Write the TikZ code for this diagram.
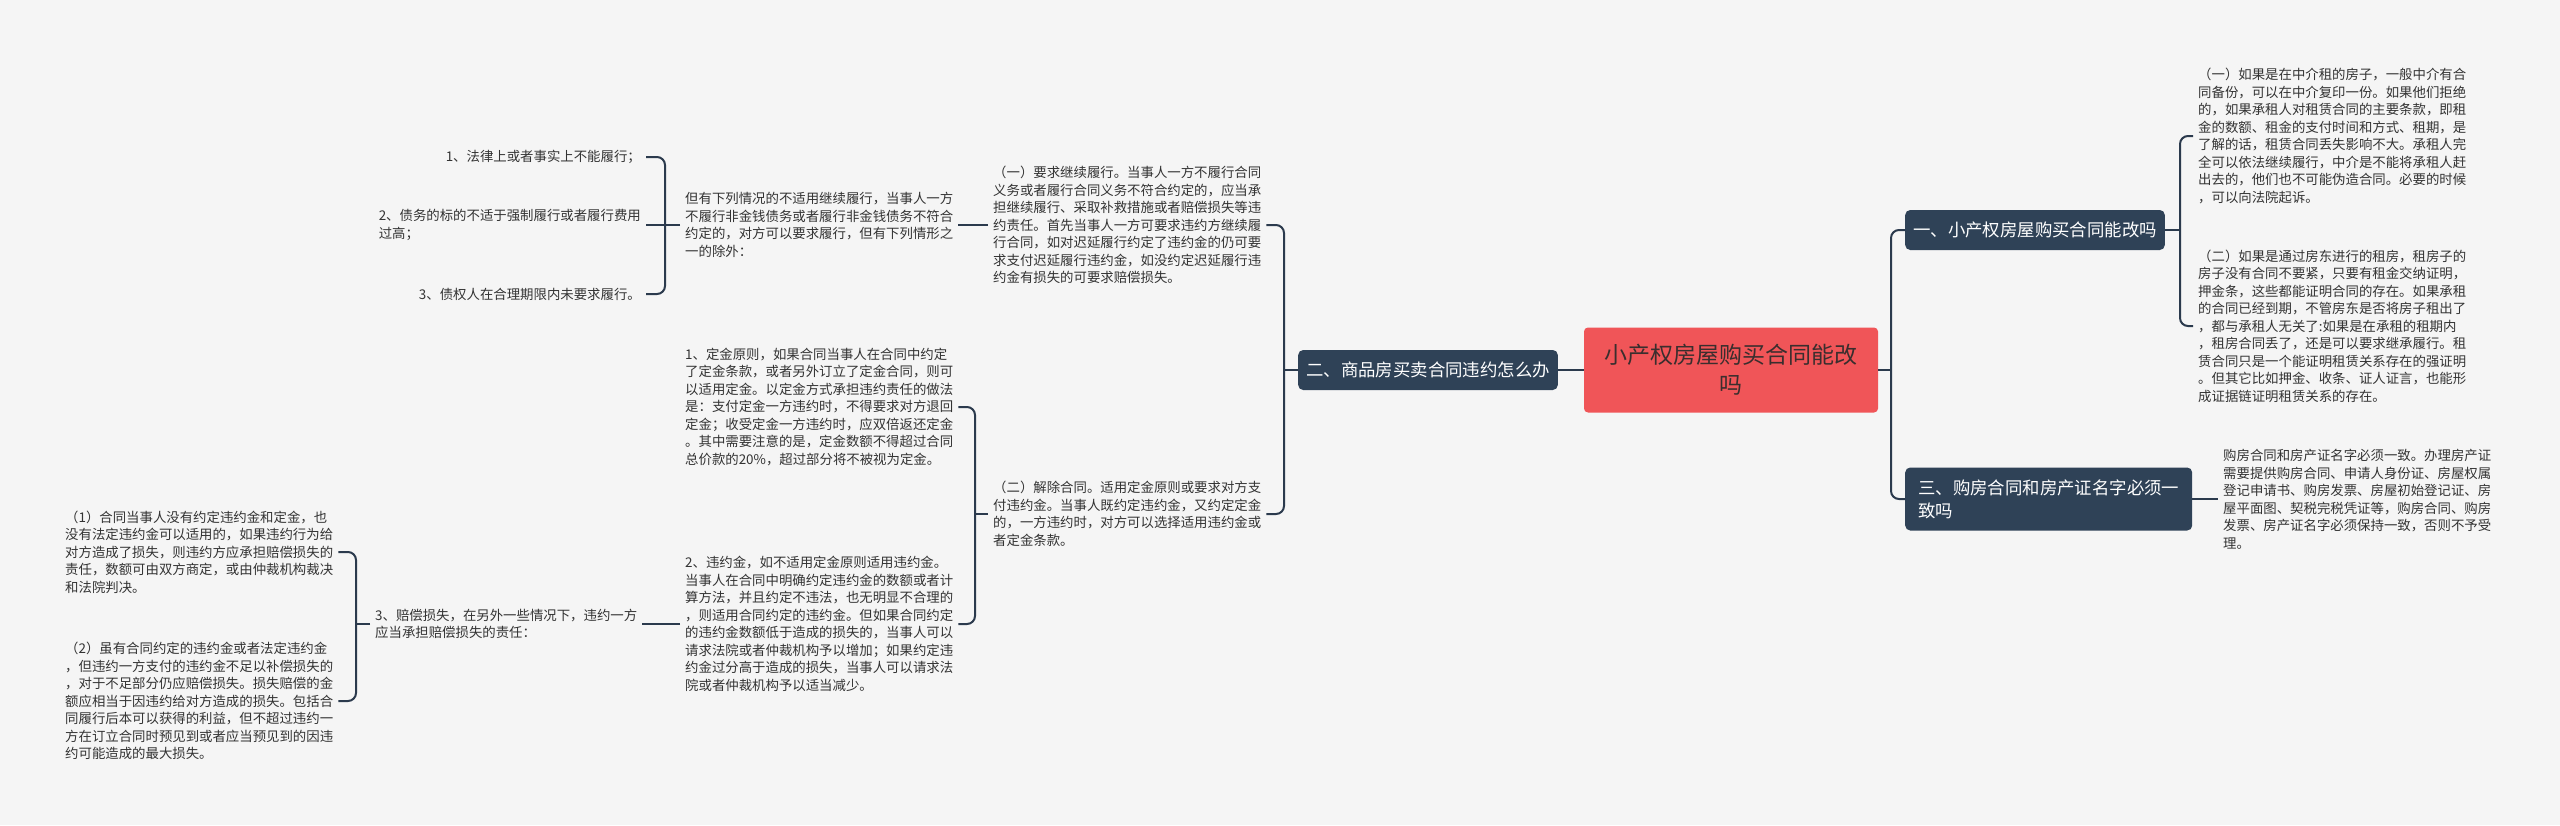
\documentclass[tikz,border=0pt]{standalone}
\usepackage{fontspec}
\setmainfont{Noto Sans CJK SC}
\definecolor{bgc}{HTML}{F5F5F5}
\definecolor{navy}{HTML}{2F4257}
\definecolor{linec}{HTML}{2B3A4D}
\definecolor{rootred}{HTML}{F05558}
\definecolor{roottext}{HTML}{3A2E2E}
\definecolor{leaftext}{HTML}{333333}
\begin{document}
\begin{tikzpicture}[x=1pt,y=-1pt,
  leaf/.style={align=left, inner xsep=5pt, inner ysep=3pt, text=leaftext, font=\fontsize{13.4}{17.5}\selectfont},
  branchbox/.style={fill=navy, text=white, rounded corners=5pt, inner xsep=8pt, font=\fontsize{17.4}{23}\selectfont, minimum height=40pt, align=left},
  rootbox/.style={fill=rootred, text=roottext, rounded corners=4pt, minimum width=294pt, minimum height=85pt, font=\fontsize{23}{30}\selectfont, align=center},
  conn/.style={draw=linec, line width=2pt, rounded corners=8pt}]
\fill[bgc] (0,0) rectangle (2560,825);
\useasboundingbox (0,0) rectangle (2560,825);

% root and branches
\node[rootbox] (root) at (1731,370) {小产权房屋购买合同能改\\吗};
\node[branchbox, anchor=west] (b1) at (1905,230) {一、小产权房屋购买合同能改吗};
\node[branchbox, anchor=west, minimum width=287pt, minimum height=63pt] (b3) at (1905,499) {三、购房合同和房产证名字必须一\\致吗};
\node[branchbox, anchor=east] (b2) at (1558,370) {二、商品房买卖合同违约怎么办};

% spine points
\coordinate (sr) at (1891,370);
\coordinate (s1) at (2180,230);
\coordinate (s2) at (1284,370);
\coordinate (s3) at (665,225);
\coordinate (s4) at (975,514);
\coordinate (s5) at (356,624);

% right leaves
\node[leaf, anchor=west] (r1a) at (2193,136) {（一）如果是在中介租的房子，一般中介有合\\同备份，可以在中介复印一份。如果他们拒绝\\的，如果承租人对租赁合同的主要条款，即租\\金的数额、租金的支付时间和方式、租期，是\\了解的话，租赁合同丢失影响不大。承租人完\\全可以依法继续履行，中介是不能将承租人赶\\出去的，他们也不可能伪造合同。必要的时候\\，可以向法院起诉。};
\node[leaf, anchor=west] (r1b) at (2193,326) {（二）如果是通过房东进行的租房，租房子的\\房子没有合同不要紧，只要有租金交纳证明，\\押金条，这些都能证明合同的存在。如果承租\\的合同已经到期，不管房东是否将房子租出了\\，都与承租人无关了:如果是在承租的租期内\\，租房合同丢了，还是可以要求继承履行。租\\赁合同只是一个能证明租赁关系存在的强证明\\。但其它比如押金、收条、证人证言，也能形\\成证据链证明租赁关系的存在。};
\node[leaf, anchor=west] (r3) at (2218,499) {购房合同和房产证名字必须一致。办理房产证\\需要提供购房合同、申请人身份证、房屋权属\\登记申请书、购房发票、房屋初始登记证、房\\屋平面图、契税完税凭证等，购房合同、购房\\发票、房产证名字必须保持一致，否则不予受\\理。};

% left leaves
\node[leaf, anchor=west] (l1) at (988,225) {（一）要求继续履行。当事人一方不履行合同\\义务或者履行合同义务不符合约定的，应当承\\担继续履行、采取补救措施或者赔偿损失等违\\约责任。首先当事人一方可要求违约方继续履\\行合同，如对迟延履行约定了违约金的仍可要\\求支付迟延履行违约金，如没约定迟延履行违\\约金有损失的可要求赔偿损失。};
\node[leaf, anchor=west] (l2) at (988,514) {（二）解除合同。适用定金原则或要求对方支\\付违约金。当事人既约定违约金，又约定定金\\的，一方违约时，对方可以选择适用违约金或\\者定金条款。};
\node[leaf, anchor=west] (nex) at (680,225) {但有下列情况的不适用继续履行，当事人一方\\不履行非金钱债务或者履行非金钱债务不符合\\约定的，对方可以要求履行，但有下列情形之\\一的除外：};
\node[leaf, anchor=east] (c1) at (646,157) {1、法律上或者事实上不能履行；};
\node[leaf, anchor=east] (c2) at (646,225) {2、债务的标的不适于强制履行或者履行费用\\过高；};
\node[leaf, anchor=east] (c3) at (646,294) {3、债权人在合理期限内未要求履行。};
\node[leaf, anchor=west] (m1) at (680,407) {1、定金原则，如果合同当事人在合同中约定\\了定金条款，或者另外订立了定金合同，则可\\以适用定金。以定金方式承担违约责任的做法\\是：支付定金一方违约时，不得要求对方退回\\定金；收受定金一方违约时，应双倍返还定金\\。其中需要注意的是，定金数额不得超过合同\\总价款的20\%，超过部分将不被视为定金。};
\node[leaf, anchor=west] (m2) at (680,624) {2、违约金，如不适用定金原则适用违约金。\\当事人在合同中明确约定违约金的数额或者计\\算方法，并且约定不违法，也无明显不合理的\\，则适用合同约定的违约金。但如果合同约定\\的违约金数额低于造成的损失的，当事人可以\\请求法院或者仲裁机构予以增加；如果约定违\\约金过分高于造成的损失，当事人可以请求法\\院或者仲裁机构予以适当减少。};
\node[leaf, anchor=west] (m3) at (370,624) {3、赔偿损失，在另外一些情况下，违约一方\\应当承担赔偿损失的责任：};
\node[leaf, anchor=west] (p1) at (60,552) {（1）合同当事人没有约定违约金和定金，也\\没有法定违约金可以适用的，如果违约行为给\\对方造成了损失，则违约方应承担赔偿损失的\\责任，数额可由双方商定，或由仲裁机构裁决\\和法院判决。};
\node[leaf, anchor=west] (p2) at (60,701) {（2）虽有合同约定的违约金或者法定违约金\\，但违约一方支付的违约金不足以补偿损失的\\，对于不足部分仍应赔偿损失。损失赔偿的金\\额应相当于因违约给对方造成的损失。包括合\\同履行后本可以获得的利益，但不超过违约一\\方在订立合同时预见到或者应当预见到的因违\\约可能造成的最大损失。};

% connectors
\draw[conn] (root.east) -- (sr);
\draw[conn] (b1.west) -| (sr) |- (b3.west);
\draw[conn] (root.west) -- (b2.east);
\draw[conn] (b1.east) -- (s1);
\draw[conn] (r1a.west) -| (s1) |- (r1b.west);
\draw[conn] (b3.east) -- (r3.west);
\draw[conn] (b2.west) -- (s2);
\draw[conn] (l1.east) -| (s2) |- (l2.east);
\draw[conn] (l1.west) -- (nex.east);
\draw[conn] (nex.west) -- (s3);
\draw[conn] (c1.east) -| (s3) |- (c3.east);
\draw[conn] (c2.east) -- (s3);
\draw[conn] (l2.west) -- (s4);
\draw[conn] (m1.east) -| (s4) |- (m2.east);
\draw[conn] (m2.west) -- (m3.east);
\draw[conn] (m3.west) -- (s5);
\draw[conn] (p1.east) -| (s5) |- (p2.east);
\end{tikzpicture}
\end{document}
